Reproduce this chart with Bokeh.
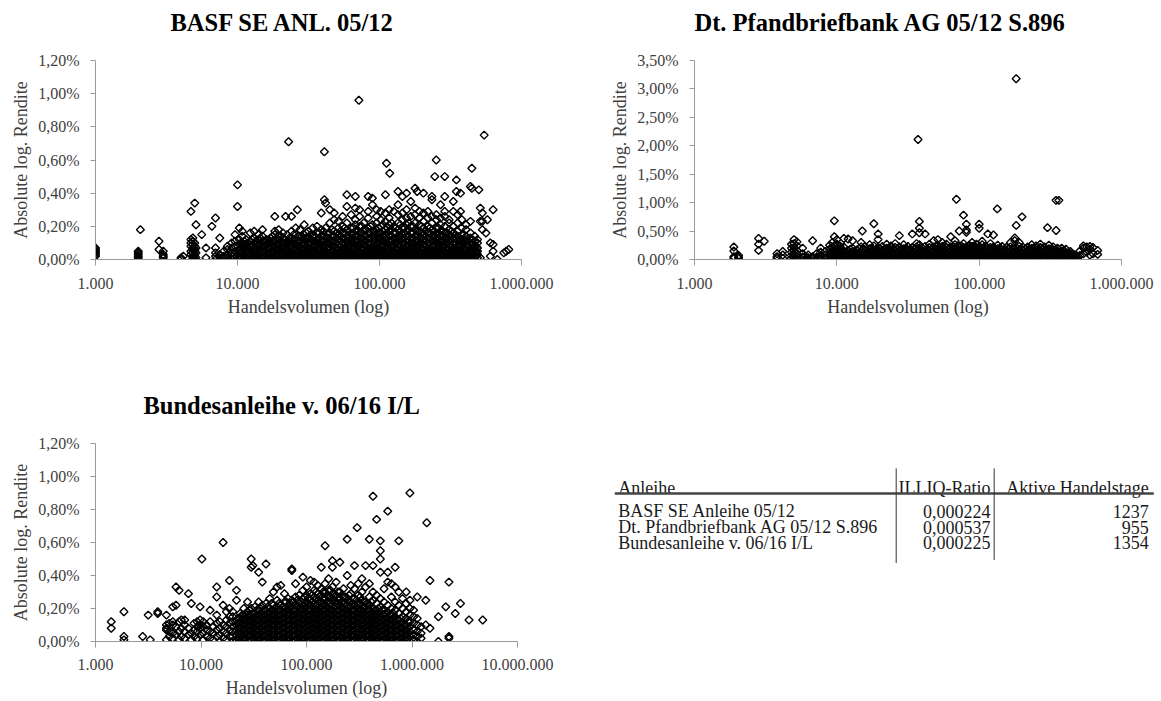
from bokeh.plotting import figure
from bokeh.models import Range1d, Title, FixedTicker, CustomJSTickFormatter, ColumnDataSource
from bokeh.layouts import column, row
from bokeh.embed import file_html
from bokeh.resources import INLINE
from bokeh.core.properties import value
import numpy as np

FONT = "Liberation Serif"

# ---------------- data (volume, [absolute log return in %]) ----------------
basf_cols = [
    (1000, [0.02, 0.03, 0.04, 0.05, 0.06, 0.07]),
    (2000, [0.00, 0.01, 0.02, 0.03, 0.04, 0.05]), (2070, [0.18]),
    (2800, [0.06, 0.11]), (3000, [0.01, 0.02, 0.03, 0.05]),
    (4000, [0.00, 0.01]), (4150, [0.02]),
    (4700, [0.03, 0.05, 0.08, 0.10, 0.12, 0.29]),
    (4850, [0.00, 0.01, 0.02, 0.04, 0.06, 0.07, 0.09, 0.11, 0.13]),
    (5000, [0.00, 0.02, 0.03, 0.05, 0.06, 0.08, 0.10, 0.34]),
    (5100, [0.01, 0.04, 0.07, 0.21]), (5600, [0.15]), (6000, [0.01, 0.07]),
    (6600, [0.20]), (7000, [0.00, 0.02, 0.04, 0.07, 0.25]),
    (7500, [0.01, 0.03, 0.13]), (8000, [0.00, 0.02, 0.05]),
    (8500, [0.01, 0.03, 0.06, 0.08]), (9100, [0.00, 0.02, 0.04, 0.07, 0.10]),
    (9600, [0.01, 0.03, 0.05, 0.08, 0.11, 0.15]), (10000, [0.45, 0.32]),
    (10300, [0.00, 0.02, 0.04, 0.06, 0.09, 0.12, 0.19]),
    (10800, [0.01, 0.03, 0.05, 0.08, 0.10, 0.14, 0.17]),
    (11500, [0.00, 0.02, 0.04, 0.07, 0.09, 0.12]),
    (12300, [0.01, 0.03, 0.06, 0.08, 0.11, 0.16]),
    (13100, [0.00, 0.02, 0.05, 0.07, 0.10, 0.13, 0.17]),
    (14000, [0.01, 0.03, 0.04, 0.06, 0.09, 0.12, 0.15]),
    (15000, [0.00, 0.02, 0.05, 0.08, 0.11, 0.14, 0.18]),
    (16000, [0.01, 0.03, 0.06, 0.09, 0.12]),
    (17100, [0.00, 0.02, 0.04, 0.07, 0.10, 0.13]),
    (18300, [0.01, 0.03, 0.05, 0.08, 0.11, 0.15, 0.17, 0.26]),
    (19500, [0.00, 0.02, 0.04, 0.06, 0.09, 0.12, 0.14, 0.18]),
    (20900, [0.01, 0.03, 0.05, 0.07, 0.10, 0.13, 0.16]),
    (21800, [0.26]), (22900, [0.71]),
    (22400, [0.00, 0.02, 0.04, 0.06, 0.09, 0.11, 0.15]),
    (24000, [0.01, 0.03, 0.05, 0.08, 0.10, 0.13, 0.17, 0.26]),
    (25700, [0.00, 0.02, 0.04, 0.07, 0.09, 0.12, 0.19]), (26400, [0.30]),
    (27500, [0.01, 0.03, 0.05, 0.08, 0.11, 0.14, 0.18]),
    (29500, [0.00, 0.02, 0.04, 0.06, 0.09, 0.12, 0.15, 0.21]),
    (31600, [0.01, 0.03, 0.05, 0.07, 0.10, 0.13, 0.17]),
    (33900, [0.00, 0.02, 0.04, 0.06, 0.08, 0.11, 0.14, 0.19]),
    (36300, [0.01, 0.03, 0.05, 0.07, 0.10, 0.12, 0.16, 0.20]),
    (38900, [0.00, 0.02, 0.04, 0.06, 0.09, 0.11, 0.14, 0.18, 0.28]),
    (40900, [0.65, 0.36]),
    (41700, [0.01, 0.03, 0.05, 0.08, 0.10, 0.13, 0.19, 0.34]),
    (44700, [0.00, 0.02, 0.04, 0.07, 0.09, 0.12, 0.16, 0.22, 0.30]),
    (47900, [0.01, 0.03, 0.05, 0.08, 0.11, 0.14, 0.17, 0.24, 0.28]),
    (51300, [0.00, 0.02, 0.04, 0.06, 0.09, 0.12, 0.15, 0.19, 0.23]),
    (55000, [0.01, 0.03, 0.05, 0.07, 0.10, 0.13, 0.16, 0.20, 0.26]),
    (58900, [0.00, 0.02, 0.04, 0.06, 0.08, 0.11, 0.14, 0.18, 0.22, 0.32, 0.39]),
    (63100, [0.01, 0.03, 0.05, 0.07, 0.10, 0.12, 0.15, 0.19, 0.27]),
    (67600, [0.00, 0.02, 0.04, 0.06, 0.09, 0.11, 0.14, 0.17, 0.21, 0.24, 0.31, 0.38]),
    (71600, [0.96]),
    (72400, [0.01, 0.03, 0.05, 0.08, 0.10, 0.13, 0.16, 0.20, 0.26, 0.30]),
    (77600, [0.00, 0.02, 0.04, 0.06, 0.09, 0.12, 0.15, 0.18, 0.22]),
    (83200, [0.01, 0.03, 0.05, 0.07, 0.10, 0.13, 0.16, 0.19, 0.25, 0.29, 0.38]),
    (89100, [0.00, 0.02, 0.04, 0.06, 0.08, 0.11, 0.14, 0.17, 0.21, 0.33, 0.37]),
    (95500, [0.01, 0.03, 0.05, 0.07, 0.09, 0.12, 0.15, 0.18, 0.22, 0.26, 0.30]),
    (102000, [0.00, 0.02, 0.04, 0.06, 0.08, 0.11, 0.13, 0.16, 0.20, 0.24, 0.29]),
    (110000, [0.01, 0.03, 0.05, 0.07, 0.10, 0.12, 0.15, 0.18, 0.23, 0.28, 0.39]),
    (112000, [0.58]), (118000, [0.52]),
    (117000, [0.00, 0.02, 0.04, 0.06, 0.09, 0.11, 0.14, 0.17, 0.21, 0.25, 0.30]),
    (126000, [0.01, 0.03, 0.05, 0.08, 0.10, 0.13, 0.16, 0.20, 0.29]),
    (135000, [0.00, 0.02, 0.04, 0.06, 0.09, 0.12, 0.14, 0.18, 0.22, 0.27, 0.33, 0.41]),
    (145000, [0.01, 0.03, 0.05, 0.07, 0.10, 0.12, 0.15, 0.19, 0.24, 0.28, 0.38]),
    (155000, [0.00, 0.02, 0.04, 0.06, 0.08, 0.11, 0.14, 0.17, 0.21, 0.25, 0.30, 0.40]),
    (166000, [0.01, 0.03, 0.05, 0.07, 0.10, 0.13, 0.16, 0.20, 0.26, 0.35]),
    (178000, [0.00, 0.02, 0.04, 0.06, 0.09, 0.11, 0.14, 0.18, 0.22, 0.27, 0.31, 0.43]),
    (184000, [0.41]),
    (191000, [0.01, 0.03, 0.05, 0.08, 0.10, 0.13, 0.17, 0.21, 0.25, 0.29]),
    (204000, [0.00, 0.02, 0.04, 0.06, 0.09, 0.12, 0.15, 0.19, 0.23, 0.28, 0.40]),
    (219000, [0.01, 0.03, 0.05, 0.07, 0.10, 0.13, 0.16, 0.20, 0.25, 0.29]),
    (234000, [0.00, 0.02, 0.04, 0.06, 0.08, 0.11, 0.14, 0.18, 0.22, 0.26, 0.36, 0.38]),
    (245000, [0.50]), (251000, [0.60]),
    (251500, [0.01, 0.03, 0.05, 0.07, 0.10, 0.12, 0.15, 0.19, 0.24, 0.27]),
    (269000, [0.00, 0.02, 0.04, 0.06, 0.09, 0.11, 0.14, 0.17, 0.21, 0.25, 0.33]),
    (288000, [0.01, 0.03, 0.05, 0.08, 0.10, 0.13, 0.16, 0.20, 0.26, 0.29, 0.38, 0.50]),
    (309000, [0.00, 0.02, 0.04, 0.06, 0.09, 0.12, 0.15, 0.18, 0.22, 0.24]),
    (331000, [0.01, 0.03, 0.05, 0.07, 0.10, 0.13, 0.16, 0.20, 0.29, 0.35]),
    (348000, [0.48, 0.41]),
    (355000, [0.00, 0.02, 0.04, 0.06, 0.08, 0.11, 0.14, 0.17, 0.22, 0.27]),
    (372000, [0.29, 0.40]),
    (380000, [0.01, 0.03, 0.05, 0.07, 0.10, 0.12, 0.15, 0.19, 0.24]),
    (407000, [0.00, 0.02, 0.04, 0.06, 0.09, 0.11, 0.14, 0.18, 0.21]),
    (437000, [0.01, 0.03, 0.05, 0.07, 0.10, 0.13, 0.16, 0.23, 0.44]),
    (447000, [0.55, 0.43]),
    (468000, [0.00, 0.02, 0.04, 0.06, 0.08, 0.11, 0.14]),
    (490000, [0.01, 0.03, 0.05, 0.07, 0.10, 0.12]),
    (501000, [0.42]), (513000, [0.01, 0.23, 0.31]), (530000, [0.18, 0.23, 0.28]),
    (546000, [0.75]), (562000, [0.16]), (575000, [0.24]), (603000, [0.02, 0.10]),
    (631000, [0.05, 0.09, 0.30]), (676000, [0.00]),
    (750000, [0.04]), (780000, [0.05]), (813000, [0.06]),
]
# extra points in the solid black core of the BASF cloud
basf_core = [
    (10550, [0.01, 0.04, 0.07, 0.10]), (11150, [0.00, 0.03, 0.06, 0.09, 0.11]),
    (11900, [0.01, 0.04, 0.07, 0.10]), (12700, [0.02, 0.05, 0.08, 0.12]),
    (13550, [0.01, 0.03, 0.06, 0.09, 0.11]), (14500, [0.00, 0.04, 0.07, 0.10, 0.13]),
    (15500, [0.02, 0.05, 0.08, 0.11]), (16550, [0.01, 0.04, 0.07, 0.10, 0.12]),
    (17700, [0.02, 0.05, 0.08, 0.11, 0.14]), (18900, [0.00, 0.03, 0.06, 0.09, 0.12]),
    (20200, [0.02, 0.05, 0.08, 0.11, 0.14]), (21650, [0.01, 0.04, 0.07, 0.10, 0.12]),
    (23200, [0.02, 0.05, 0.08, 0.11, 0.13]), (24850, [0.01, 0.04, 0.06, 0.09, 0.12, 0.15]),
    (26600, [0.02, 0.05, 0.08, 0.11, 0.14]), (28500, [0.01, 0.03, 0.06, 0.09, 0.12, 0.14]),
    (30550, [0.02, 0.05, 0.08, 0.11, 0.13, 0.16]), (32750, [0.01, 0.04, 0.07, 0.10, 0.12, 0.15]),
    (35100, [0.02, 0.05, 0.08, 0.11, 0.14]), (37600, [0.01, 0.04, 0.07, 0.10, 0.13, 0.16]),
    (40300, [0.02, 0.05, 0.08, 0.11, 0.14, 0.17]), (43200, [0.01, 0.04, 0.07, 0.10, 0.13, 0.15]),
    (46300, [0.02, 0.05, 0.08, 0.11, 0.14, 0.18]), (49600, [0.01, 0.04, 0.07, 0.10, 0.13, 0.16]),
    (53150, [0.02, 0.05, 0.08, 0.11, 0.14, 0.17]), (56950, [0.01, 0.04, 0.07, 0.09, 0.12, 0.16, 0.19]),
    (61000, [0.02, 0.05, 0.08, 0.11, 0.13, 0.17]), (65350, [0.01, 0.04, 0.07, 0.10, 0.13, 0.16, 0.19]),
    (70000, [0.02, 0.05, 0.08, 0.11, 0.14, 0.17]), (75000, [0.01, 0.04, 0.07, 0.10, 0.13, 0.16, 0.20]),
    (80400, [0.02, 0.05, 0.08, 0.11, 0.14, 0.18]), (86150, [0.01, 0.04, 0.07, 0.10, 0.13, 0.16, 0.20]),
    (92300, [0.02, 0.05, 0.08, 0.11, 0.14, 0.17]), (98750, [0.01, 0.04, 0.07, 0.10, 0.13, 0.16, 0.19]),
    (106000, [0.02, 0.05, 0.08, 0.11, 0.14, 0.17, 0.21]), (113500, [0.01, 0.04, 0.07, 0.10, 0.13, 0.16, 0.19]),
    (121500, [0.02, 0.05, 0.08, 0.11, 0.14, 0.18, 0.22]), (130500, [0.01, 0.04, 0.07, 0.10, 0.13, 0.16, 0.19]),
    (140000, [0.02, 0.05, 0.08, 0.11, 0.14, 0.17, 0.21]), (150000, [0.01, 0.04, 0.07, 0.10, 0.13, 0.16, 0.19]),
    (160500, [0.02, 0.05, 0.08, 0.11, 0.14, 0.18, 0.22]), (172000, [0.01, 0.04, 0.07, 0.10, 0.13, 0.16, 0.20]),
    (184500, [0.02, 0.05, 0.08, 0.11, 0.14, 0.17]), (197500, [0.01, 0.04, 0.07, 0.10, 0.13, 0.16, 0.20]),
    (211500, [0.02, 0.05, 0.08, 0.11, 0.14, 0.17]), (226500, [0.01, 0.04, 0.07, 0.10, 0.13, 0.16, 0.19]),
    (243000, [0.02, 0.05, 0.08, 0.11, 0.14, 0.17]), (260000, [0.01, 0.04, 0.07, 0.10, 0.13, 0.16, 0.19]),
    (278500, [0.02, 0.05, 0.08, 0.11, 0.14, 0.17]), (298500, [0.01, 0.04, 0.07, 0.10, 0.13, 0.16]),
    (320000, [0.02, 0.05, 0.08, 0.11, 0.14, 0.17]), (343000, [0.01, 0.04, 0.07, 0.10, 0.13, 0.15]),
    (367500, [0.02, 0.05, 0.08, 0.11, 0.13]), (393500, [0.01, 0.04, 0.07, 0.10, 0.12, 0.15]),
    (422000, [0.02, 0.05, 0.08, 0.11]), (452000, [0.01, 0.04, 0.07, 0.09, 0.12]),
    (479000, [0.02, 0.05, 0.08]),
]

pfand_cols = [
    (1890, [0.02, 0.05, 0.15, 0.22]), (2040, [0.02, 0.04, 0.07]),
    (2820, [0.16, 0.27, 0.37]), (3090, [0.32]),
    (3800, [0.02, 0.05, 0.10]), (4170, [0.02, 0.08, 0.14]),
    (4800, [0.02, 0.07, 0.13, 0.20, 0.27]),
    (5000, [0.00, 0.04, 0.09, 0.15, 0.21, 0.28, 0.35]),
    (5250, [0.01, 0.05, 0.10, 0.16, 0.24, 0.31]),
    (5750, [0.04, 0.10, 0.20]), (6000, [0.01, 0.06]), (6300, [0.00, 0.03, 0.08]),
    (6760, [0.02, 0.05, 0.33]), (7200, [0.00, 0.04, 0.10]),
    (7700, [0.01, 0.06, 0.13, 0.20]), (8300, [0.00, 0.03, 0.08, 0.14]),
    (8900, [0.02, 0.06, 0.11, 0.18, 0.25]),
    (9300, [0.00, 0.04, 0.09, 0.15, 0.22, 0.30]),
    (9600, [0.01, 0.05, 0.10, 0.16, 0.24, 0.40, 0.68]),
    (10000, [0.00, 0.03, 0.08, 0.13, 0.19, 0.27, 0.35]),
    (10500, [0.02, 0.06, 0.11, 0.17, 0.24]),
    (11200, [0.00, 0.04, 0.09, 0.15, 0.22, 0.37]),
    (12000, [0.01, 0.05, 0.10, 0.16, 0.36]),
    (12900, [0.00, 0.03, 0.08, 0.14, 0.20, 0.33]),
    (13800, [0.02, 0.06, 0.11, 0.17]),
    (14800, [0.00, 0.04, 0.09, 0.15, 0.22, 0.30]), (15100, [0.50]),
    (15800, [0.01, 0.05, 0.10, 0.16, 0.23]),
    (17000, [0.00, 0.03, 0.08, 0.13, 0.19, 0.26]),
    (18200, [0.02, 0.06, 0.11, 0.17, 0.24, 0.63]),
    (19500, [0.00, 0.04, 0.09, 0.15, 0.21, 0.35, 0.45]),
    (20900, [0.01, 0.05, 0.10, 0.16, 0.23]),
    (22400, [0.00, 0.03, 0.08, 0.14, 0.20, 0.27]),
    (24000, [0.02, 0.06, 0.11, 0.17, 0.24]),
    (25700, [0.00, 0.04, 0.09, 0.15, 0.21, 0.28]),
    (27500, [0.01, 0.05, 0.10, 0.16, 0.22, 0.42]),
    (29500, [0.00, 0.03, 0.08, 0.13, 0.19, 0.26]),
    (31600, [0.02, 0.06, 0.11, 0.17, 0.23]),
    (33900, [0.00, 0.04, 0.09, 0.15, 0.21, 0.45]),
    (36300, [0.01, 0.05, 0.10, 0.16, 0.22, 0.28]), (37200, [2.11]),
    (38000, [0.00, 0.03, 0.08, 0.14, 0.20, 0.26, 0.47, 0.55, 0.67]),
    (41700, [0.02, 0.06, 0.11, 0.17, 0.23, 0.45]),
    (44700, [0.00, 0.04, 0.09, 0.15, 0.21, 0.27]),
    (47900, [0.01, 0.05, 0.10, 0.16, 0.22, 0.33]),
    (51300, [0.00, 0.03, 0.08, 0.13, 0.19, 0.25, 0.35]),
    (55000, [0.02, 0.06, 0.11, 0.17, 0.23, 0.30]),
    (58900, [0.00, 0.04, 0.09, 0.15, 0.21, 0.27]),
    (63100, [0.01, 0.05, 0.10, 0.16, 0.22, 0.40]),
    (67600, [0.00, 0.03, 0.08, 0.14, 0.20, 0.26, 0.33]), (69200, [1.06]),
    (72400, [0.02, 0.06, 0.11, 0.17, 0.24, 0.50]),
    (77600, [0.00, 0.04, 0.09, 0.15, 0.21, 0.28, 0.78]),
    (81300, [0.01, 0.05, 0.10, 0.16, 0.22, 0.48, 0.52, 0.62]),
    (85000, [0.00, 0.03, 0.08, 0.13, 0.19, 0.25]),
    (89100, [0.02, 0.06, 0.11, 0.17, 0.23, 0.30]),
    (95500, [0.00, 0.04, 0.09, 0.15, 0.21, 0.27]),
    (100000, [0.01, 0.05, 0.10, 0.16, 0.22, 0.55, 0.62]),
    (105000, [0.00, 0.03, 0.08, 0.14, 0.20, 0.26, 0.32]),
    (112000, [0.02, 0.06, 0.11, 0.17, 0.23]), (115000, [0.45]),
    (120000, [0.00, 0.04, 0.09, 0.15, 0.21, 0.28]),
    (126000, [0.01, 0.05, 0.10, 0.16, 0.22, 0.43]), (134000, [0.89]),
    (135000, [0.00, 0.03, 0.08, 0.13, 0.19, 0.25]),
    (145000, [0.02, 0.06, 0.11, 0.17, 0.23]),
    (155000, [0.00, 0.04, 0.09, 0.15, 0.21]),
    (166000, [0.01, 0.05, 0.10, 0.16, 0.22, 0.30]),
    (178000, [0.00, 0.03, 0.08, 0.13, 0.19, 0.33, 0.38]),
    (182000, [3.18, 0.60]),
    (191000, [0.02, 0.06, 0.11, 0.17, 0.23, 0.30]), (200000, [0.75]),
    (204000, [0.00, 0.04, 0.09, 0.15, 0.21]),
    (219000, [0.01, 0.05, 0.10, 0.16, 0.22]),
    (234000, [0.00, 0.03, 0.08, 0.14, 0.20, 0.26]),
    (251000, [0.02, 0.06, 0.11, 0.17, 0.24]),
    (269000, [0.00, 0.04, 0.09, 0.15, 0.21, 0.27]),
    (288000, [0.01, 0.05, 0.10, 0.16, 0.22]), (302000, [0.56]),
    (309000, [0.00, 0.03, 0.08, 0.13, 0.19, 0.25]),
    (331000, [0.02, 0.06, 0.11, 0.17, 0.22]),
    (347000, [0.51, 1.04]), (363000, [1.04]),
    (355000, [0.00, 0.04, 0.09, 0.15, 0.20]),
    (380000, [0.01, 0.05, 0.10, 0.15, 0.20]),
    (407000, [0.00, 0.03, 0.08, 0.12, 0.18]),
    (437000, [0.02, 0.06, 0.10, 0.14]), (468000, [0.00, 0.04, 0.08]),
    (490000, [0.01, 0.03]),
    (510000, [0.07, 0.15]), (540000, [0.10, 0.20, 0.24]), (570000, [0.13, 0.22]),
    (600000, [0.08, 0.18, 0.23]), (630000, [0.10, 0.21]), (680000, [0.09, 0.16]),
]
pfand_core = [
    (9450, [0.02, 0.07, 0.12]), (10250, [0.03, 0.08, 0.14, 0.20]),
    (10850, [0.02, 0.07, 0.12, 0.18]), (11600, [0.03, 0.08, 0.13]),
    (12450, [0.02, 0.07, 0.12, 0.18]), (13350, [0.03, 0.08, 0.14]),
    (14300, [0.02, 0.07, 0.12, 0.19]), (15450, [0.03, 0.08, 0.13, 0.18]),
    (16400, [0.02, 0.07, 0.12]), (17600, [0.03, 0.08, 0.14, 0.20]),
    (18850, [0.02, 0.07, 0.12, 0.18]), (20200, [0.03, 0.08, 0.13, 0.19]),
    (21650, [0.02, 0.07, 0.12, 0.17]), (23200, [0.03, 0.08, 0.14, 0.20]),
    (24850, [0.02, 0.07, 0.12, 0.18]), (26600, [0.03, 0.08, 0.13, 0.19]),
    (28500, [0.02, 0.07, 0.12, 0.18]), (30550, [0.03, 0.08, 0.14, 0.20]),
    (32750, [0.02, 0.07, 0.12, 0.18]), (35100, [0.03, 0.08, 0.13, 0.19]),
    (37600, [0.02, 0.07, 0.12, 0.18]), (39850, [0.03, 0.08, 0.14, 0.20]),
    (43200, [0.02, 0.07, 0.12, 0.18]), (46300, [0.03, 0.08, 0.13, 0.19]),
    (49600, [0.02, 0.07, 0.12, 0.18, 0.23]), (53150, [0.03, 0.08, 0.14, 0.20]),
    (56950, [0.02, 0.07, 0.12, 0.18, 0.24]), (61000, [0.03, 0.08, 0.13, 0.19]),
    (65350, [0.02, 0.07, 0.12, 0.18, 0.23]), (70000, [0.03, 0.08, 0.14, 0.20]),
    (75000, [0.02, 0.07, 0.12, 0.18, 0.24]), (79500, [0.03, 0.08, 0.13, 0.19]),
    (83150, [0.02, 0.07, 0.12, 0.18]), (87050, [0.03, 0.08, 0.14, 0.20]),
    (92300, [0.02, 0.07, 0.12, 0.18, 0.24]), (97750, [0.03, 0.08, 0.13, 0.19]),
    (102500, [0.02, 0.07, 0.12, 0.18]), (108500, [0.03, 0.08, 0.14, 0.20]),
    (116000, [0.02, 0.07, 0.12, 0.18]), (123000, [0.03, 0.08, 0.13, 0.19]),
    (130500, [0.02, 0.07, 0.12, 0.18]), (140000, [0.03, 0.08, 0.14, 0.20]),
    (150000, [0.02, 0.07, 0.12, 0.17]), (160500, [0.03, 0.08, 0.13, 0.19]),
    (172000, [0.02, 0.07, 0.12, 0.18]), (184500, [0.03, 0.08, 0.14]),
    (197500, [0.02, 0.07, 0.12, 0.18]), (211500, [0.03, 0.08, 0.13, 0.19]),
    (226500, [0.02, 0.07, 0.12, 0.17]), (242500, [0.03, 0.08, 0.14, 0.20]),
    (260000, [0.02, 0.07, 0.12, 0.18]), (278500, [0.03, 0.08, 0.13, 0.19]),
    (298500, [0.02, 0.07, 0.12, 0.17]), (320000, [0.03, 0.08, 0.14]),
    (343000, [0.02, 0.07, 0.12, 0.17]), (367500, [0.03, 0.08, 0.13]),
    (393500, [0.02, 0.07, 0.12, 0.16]), (422000, [0.03, 0.08, 0.12]),
    (452000, [0.02, 0.06, 0.10]),
]

bund_cols = [
    (1410, [0.08, 0.12]), (1860, [0.01, 0.03, 0.18]), (2800, [0.03]),
    (3160, [0.16]), (3300, [0.01]), (3890, [0.17, 0.18]),
    (4700, [0.01, 0.07, 0.08, 0.10, 0.16]), (5000, [0.03, 0.06, 0.11]),
    (5400, [0.02, 0.05, 0.10, 0.12, 0.21]), (5800, [0.04, 0.09, 0.22, 0.33]),
    (6200, [0.01, 0.06, 0.12, 0.31]), (6500, [0.03, 0.08, 0.13]),
    (7000, [0.02, 0.06, 0.10, 0.13]), (7600, [0.04, 0.08, 0.29]),
    (8100, [0.01, 0.05, 0.23]), (8600, [0.03, 0.07, 0.11]),
    (9200, [0.02, 0.06, 0.09, 0.12]), (9800, [0.04, 0.08, 0.10, 0.13, 0.21]),
    (10200, [0.50]), (10500, [0.01, 0.05, 0.09, 0.12]),
    (11300, [0.03, 0.07, 0.10]), (12200, [0.02, 0.06, 0.12, 0.19]),
    (13100, [0.01, 0.05, 0.09]), (14100, [0.03, 0.07, 0.11, 0.16, 0.27, 0.33]),
    (15100, [0.00, 0.04, 0.08, 0.12]), (16200, [0.02, 0.06, 0.10, 0.22, 0.60]),
    (17400, [0.01, 0.05, 0.09, 0.13, 0.18]),
    (18600, [0.03, 0.07, 0.11, 0.15, 0.20, 0.37]),
    (20000, [0.00, 0.03, 0.06, 0.09, 0.12, 0.15, 0.18]),
    (21700, [0.01, 0.04, 0.07, 0.10, 0.13, 0.25, 0.31]),
    (23500, [0.00, 0.02, 0.05, 0.08, 0.11, 0.14, 0.17]),
    (25500, [0.01, 0.04, 0.07, 0.10, 0.13, 0.16, 0.20]),
    (27600, [0.00, 0.03, 0.06, 0.09, 0.12, 0.15, 0.18, 0.24]),
    (29900, [0.01, 0.04, 0.07, 0.10, 0.13, 0.16, 0.20, 0.45, 0.50]),
    (31000, [0.46]),
    (32400, [0.00, 0.02, 0.05, 0.08, 0.11, 0.14, 0.17, 0.21]),
    (35200, [0.01, 0.04, 0.07, 0.10, 0.13, 0.16, 0.19, 0.24, 0.42]),
    (38100, [0.00, 0.03, 0.06, 0.09, 0.12, 0.15, 0.18, 0.22, 0.36]),
    (41300, [0.01, 0.04, 0.07, 0.10, 0.13, 0.16, 0.19, 0.23, 0.47]),
    (44800, [0.00, 0.02, 0.05, 0.08, 0.11, 0.14, 0.17, 0.20, 0.26]),
    (48500, [0.01, 0.04, 0.07, 0.10, 0.13, 0.16, 0.19, 0.22, 0.30]),
    (52600, [0.00, 0.03, 0.06, 0.09, 0.12, 0.15, 0.18, 0.21, 0.25, 0.33]),
    (57000, [0.01, 0.04, 0.07, 0.10, 0.13, 0.16, 0.19, 0.22, 0.34]),
    (61800, [0.00, 0.02, 0.05, 0.08, 0.11, 0.14, 0.17, 0.20, 0.24, 0.29]),
    (67000, [0.01, 0.04, 0.07, 0.10, 0.13, 0.16, 0.19, 0.22, 0.26]),
    (72600, [0.00, 0.03, 0.06, 0.09, 0.12, 0.15, 0.18, 0.21, 0.25, 0.43, 0.44]),
    (78700, [0.01, 0.04, 0.07, 0.10, 0.13, 0.16, 0.19, 0.22, 0.27, 0.35]),
    (85300, [0.00, 0.02, 0.05, 0.08, 0.11, 0.14, 0.17, 0.20, 0.23, 0.28]),
    (92500, [0.01, 0.04, 0.07, 0.10, 0.13, 0.16, 0.19, 0.22, 0.26, 0.31, 0.39]),
    (100000, [0.00, 0.03, 0.06, 0.09, 0.12, 0.15, 0.18, 0.21, 0.24, 0.28, 0.33]),
    (109000, [0.01, 0.04, 0.07, 0.10, 0.13, 0.16, 0.19, 0.22, 0.25, 0.29, 0.37]),
    (118000, [0.00, 0.02, 0.05, 0.08, 0.11, 0.14, 0.17, 0.20, 0.23, 0.27, 0.31, 0.36]),
    (128000, [0.01, 0.04, 0.07, 0.10, 0.13, 0.16, 0.19, 0.22, 0.25, 0.29, 0.34]),
    (138000, [0.00, 0.03, 0.06, 0.09, 0.12, 0.15, 0.18, 0.21, 0.24, 0.28, 0.32, 0.45]),
    (150000, [0.01, 0.04, 0.07, 0.10, 0.13, 0.16, 0.19, 0.22, 0.26, 0.30, 0.35, 0.58]),
    (162000, [0.00, 0.02, 0.05, 0.08, 0.11, 0.14, 0.17, 0.20, 0.23, 0.27, 0.31, 0.38]),
    (176000, [0.01, 0.04, 0.07, 0.10, 0.13, 0.16, 0.19, 0.22, 0.25, 0.29, 0.33, 0.45, 0.49]),
    (191000, [0.00, 0.03, 0.06, 0.09, 0.12, 0.15, 0.18, 0.21, 0.24, 0.28, 0.36]),
    (207000, [0.01, 0.04, 0.07, 0.10, 0.13, 0.16, 0.19, 0.22, 0.26, 0.30, 0.48]),
    (224000, [0.00, 0.02, 0.05, 0.08, 0.11, 0.14, 0.17, 0.20, 0.23, 0.27, 0.32]),
    (243000, [0.01, 0.04, 0.07, 0.10, 0.13, 0.16, 0.19, 0.22, 0.25, 0.40, 0.62]),
    (263000, [0.00, 0.03, 0.06, 0.09, 0.12, 0.15, 0.18, 0.21, 0.24, 0.29, 0.34]),
    (285000, [0.01, 0.04, 0.07, 0.10, 0.13, 0.16, 0.19, 0.22, 0.26, 0.32, 0.46]),
    (302000, [0.69]),
    (309000, [0.00, 0.02, 0.05, 0.08, 0.11, 0.14, 0.17, 0.20, 0.23, 0.28, 0.35]),
    (335000, [0.01, 0.04, 0.07, 0.10, 0.13, 0.16, 0.19, 0.22, 0.25, 0.30, 0.38]),
    (363000, [0.00, 0.03, 0.06, 0.09, 0.12, 0.15, 0.18, 0.21, 0.24, 0.33, 0.46]),
    (394000, [0.01, 0.04, 0.07, 0.10, 0.13, 0.16, 0.19, 0.22, 0.27, 0.35, 0.62]),
    (427000, [0.00, 0.02, 0.05, 0.08, 0.11, 0.14, 0.17, 0.20, 0.25, 0.30, 0.46, 0.88]),
    (462000, [0.01, 0.04, 0.07, 0.10, 0.13, 0.16, 0.19, 0.23, 0.28, 0.74]),
    (501000, [0.00, 0.03, 0.06, 0.09, 0.12, 0.15, 0.18, 0.21, 0.26, 0.42, 0.50, 0.55, 0.61]),
    (543000, [0.01, 0.04, 0.07, 0.10, 0.13, 0.16, 0.19, 0.24, 0.32]),
    (589000, [0.00, 0.02, 0.05, 0.08, 0.11, 0.14, 0.18, 0.22, 0.36, 0.42, 0.79]),
    (638000, [0.01, 0.04, 0.07, 0.10, 0.13, 0.16, 0.20, 0.27, 0.35]),
    (692000, [0.00, 0.03, 0.06, 0.09, 0.12, 0.15, 0.19, 0.24, 0.33, 0.45]),
    (750000, [0.01, 0.04, 0.07, 0.10, 0.13, 0.17, 0.22, 0.30, 0.61]),
    (813000, [0.00, 0.02, 0.05, 0.08, 0.11, 0.15, 0.20, 0.26]),
    (881000, [0.01, 0.04, 0.07, 0.10, 0.14, 0.18, 0.23, 0.30]),
    (955000, [0.00, 0.03, 0.06, 0.09, 0.12, 0.16, 0.20, 0.25, 0.90]),
    (1035000, [0.01, 0.04, 0.07, 0.11, 0.15, 0.19]),
    (1122000, [0.00, 0.03, 0.06, 0.10, 0.14, 0.27]),
    (1220000, [0.02, 0.05, 0.09]),
    (1350000, [0.10, 0.25]), (1380000, [0.72]), (1480000, [0.08, 0.37]),
    (1780000, [0.00, 0.15]), (2090000, [0.21]), (2240000, [0.02, 0.03, 0.36]),
    (2570000, [0.17]), (2880000, [0.23]), (3470000, [0.13]), (4680000, [0.13]),
]
bund_core = [
    (22600, [0.02, 0.05, 0.08, 0.11, 0.14]), (24500, [0.01, 0.04, 0.07, 0.10, 0.13, 0.16]),
    (26500, [0.02, 0.05, 0.08, 0.11, 0.14, 0.17]), (28700, [0.01, 0.04, 0.07, 0.10, 0.13, 0.16, 0.19]),
    (31100, [0.02, 0.05, 0.08, 0.11, 0.14, 0.17]), (33800, [0.01, 0.04, 0.07, 0.10, 0.13, 0.16, 0.19]),
    (36600, [0.02, 0.05, 0.08, 0.11, 0.14, 0.17, 0.20]), (39700, [0.01, 0.04, 0.07, 0.10, 0.13, 0.16, 0.19]),
    (43000, [0.02, 0.05, 0.08, 0.11, 0.14, 0.17, 0.21]), (46600, [0.01, 0.04, 0.07, 0.10, 0.13, 0.16, 0.19, 0.23]),
    (50500, [0.02, 0.05, 0.08, 0.11, 0.14, 0.17, 0.20]), (54800, [0.01, 0.04, 0.07, 0.10, 0.13, 0.16, 0.19, 0.23]),
    (59400, [0.02, 0.05, 0.08, 0.11, 0.14, 0.17, 0.21]), (64400, [0.01, 0.04, 0.07, 0.10, 0.13, 0.16, 0.19, 0.24]),
    (69800, [0.02, 0.05, 0.08, 0.11, 0.14, 0.17, 0.20, 0.23]), (75600, [0.01, 0.04, 0.07, 0.10, 0.13, 0.16, 0.19, 0.24]),
    (82000, [0.02, 0.05, 0.08, 0.11, 0.14, 0.17, 0.21, 0.25]), (88800, [0.01, 0.04, 0.07, 0.10, 0.13, 0.16, 0.19, 0.24]),
    (96200, [0.02, 0.05, 0.08, 0.11, 0.14, 0.17, 0.20, 0.23, 0.27]),
    (104000, [0.01, 0.04, 0.07, 0.10, 0.13, 0.16, 0.19, 0.23, 0.26]),
    (113000, [0.02, 0.05, 0.08, 0.11, 0.14, 0.17, 0.21, 0.24, 0.28]),
    (123000, [0.01, 0.04, 0.07, 0.10, 0.13, 0.16, 0.19, 0.22, 0.26, 0.30]),
    (133000, [0.02, 0.05, 0.08, 0.11, 0.14, 0.17, 0.20, 0.24, 0.27]),
    (144000, [0.01, 0.04, 0.07, 0.10, 0.13, 0.16, 0.19, 0.23, 0.26, 0.30]),
    (156000, [0.02, 0.05, 0.08, 0.11, 0.14, 0.17, 0.21, 0.24, 0.28]),
    (169000, [0.01, 0.04, 0.07, 0.10, 0.13, 0.16, 0.19, 0.23, 0.27, 0.31]),
    (183000, [0.02, 0.05, 0.08, 0.11, 0.14, 0.17, 0.20, 0.24, 0.27]),
    (199000, [0.01, 0.04, 0.07, 0.10, 0.13, 0.16, 0.19, 0.23, 0.26, 0.30]),
    (215000, [0.02, 0.05, 0.08, 0.11, 0.14, 0.17, 0.21, 0.24, 0.28]),
    (233000, [0.01, 0.04, 0.07, 0.10, 0.13, 0.16, 0.19, 0.23, 0.27]),
    (253000, [0.02, 0.05, 0.08, 0.11, 0.14, 0.17, 0.20, 0.24, 0.28]),
    (274000, [0.01, 0.04, 0.07, 0.10, 0.13, 0.16, 0.19, 0.23, 0.26]),
    (297000, [0.02, 0.05, 0.08, 0.11, 0.14, 0.17, 0.21, 0.25]),
    (322000, [0.01, 0.04, 0.07, 0.10, 0.13, 0.16, 0.19, 0.23, 0.27]),
    (349000, [0.02, 0.05, 0.08, 0.11, 0.14, 0.17, 0.20, 0.24]),
    (378000, [0.01, 0.04, 0.07, 0.10, 0.13, 0.16, 0.19, 0.23]),
    (410000, [0.02, 0.05, 0.08, 0.11, 0.14, 0.17, 0.21, 0.24]),
    (444000, [0.01, 0.04, 0.07, 0.10, 0.13, 0.16, 0.19]),
    (481000, [0.02, 0.05, 0.08, 0.11, 0.14, 0.17, 0.20]),
    (522000, [0.01, 0.04, 0.07, 0.10, 0.13, 0.16, 0.19]),
    (566000, [0.02, 0.05, 0.08, 0.11, 0.14, 0.17]),
    (613000, [0.01, 0.04, 0.07, 0.10, 0.13, 0.16]),
    (665000, [0.02, 0.05, 0.08, 0.11, 0.14, 0.17]),
    (720000, [0.01, 0.04, 0.07, 0.10, 0.13]),
    (781000, [0.02, 0.05, 0.08, 0.11, 0.14]),
    (846000, [0.01, 0.04, 0.07, 0.10]),
    (917000, [0.02, 0.05, 0.08, 0.12]),
]

titles = ["BASF SE ANL. 05/12", "Dt. Pfandbriefbank AG 05/12 S.896", "Bundesanleihe v. 06/16 I/L"]
x_title = "Handelsvolumen (log)"
y_title = "Absolute log. Rendite"

table_header = ["Anleihe", "ILLIQ-Ratio", "Aktive Handelstage"]
table_names = ["BASF SE Anleihe 05/12", "Dt. Pfandbriefbank AG 05/12 S.896", "Bundesanleihe v. 06/16 I/L"]
table_illiq = ["0,000224", "0,000537", "0,000225"]
table_days = ["1237", "955", "1354"]


def expand(*col_lists):
    xs, ys = [], []
    for cols in col_lists:
        for vol, rets in cols:
            for r in rets:
                xs.append(vol)
                ys.append(r)
    return xs, ys


X_FMT = CustomJSTickFormatter(code=r"""
var s = Math.round(tick).toString();
return s.replace(/\B(?=(\d{3})+(?!\d))/g, '.');
""")
Y_FMT = CustomJSTickFormatter(code=r"""
return tick.toFixed(2).replace('.', ',') + '%';
""")

AXIS_COL = "#9a9a9a"
LABEL_COL = "#404040"


def make_scatter(cols, title, w, h, bl, br, bt, bb, xmax, ymax, ystep, toff,
                 xstand=12, xlstand=5):
    p = figure(width=w, height=h, x_axis_type="log",
               x_range=Range1d(1e3, xmax), y_range=Range1d(0, ymax),
               output_backend="svg", toolbar_location=None,
               min_border_left=bl, min_border_right=br,
               min_border_top=bt, min_border_bottom=bb)
    p.title = Title(text=title, align="left", offset=toff, standoff=4,
                    text_font=FONT, text_font_size="24.5px", text_font_style="bold",
                    text_color="black")
    # empty spacer between the frame and the title
    p.add_layout(Title(text=" ", text_font=FONT, text_font_size="19px", standoff=0), "above")
    p.outline_line_color = None
    p.grid.visible = False
    xs, ys = expand(*cols)
    src = ColumnDataSource(dict(vol=xs, ret=ys))
    p.scatter(x="vol", y="ret", source=src, marker="square", angle=np.pi / 4,
              size=5.6, fill_color=None, line_color="black", line_width=1.4)

    decades = []
    v = 1000
    while v <= xmax * 1.0001:
        decades.append(v)
        v *= 10
    p.xaxis.ticker = FixedTicker(ticks=decades, minor_ticks=[])
    p.xaxis.formatter = X_FMT
    yt = [round(i * ystep, 4) for i in range(int(round(ymax / ystep)) + 1)]
    p.yaxis.ticker = FixedTicker(ticks=yt, minor_ticks=[])
    p.yaxis.formatter = Y_FMT

    for ax in (p.xaxis[0], p.yaxis[0]):
        ax.axis_line_color = AXIS_COL
        ax.major_tick_line_color = AXIS_COL
        ax.minor_tick_line_color = None
        ax.major_tick_in = 0
        ax.major_label_text_font = FONT
        ax.major_label_text_font_size = "16px"
        ax.major_label_text_color = LABEL_COL
        ax.axis_label_text_font = FONT
        ax.axis_label_text_font_size = "18px"
        ax.axis_label_text_font_style = "normal"
        ax.axis_label_text_color = LABEL_COL
    p.xaxis.major_tick_out = 6
    p.xaxis.major_label_standoff = xstand
    p.xaxis.axis_label = x_title
    p.xaxis.axis_label_standoff = xlstand
    p.yaxis.major_tick_out = 5
    p.yaxis.major_label_standoff = 11
    p.yaxis.axis_label = y_title
    p.yaxis.axis_label_standoff = 4
    return p


p1 = make_scatter([basf_cols, basf_core], titles[0], 587, 367, 95, 66, 59, 108, 1e6, 1.2, 0.2, 75)
p2 = make_scatter([pfand_cols, pfand_core], titles[1], 569, 367, 107, 35, 60, 108, 1e6, 3.5, 0.5, 0)
p3 = make_scatter([bund_cols, bund_core], titles[2], 587, 333, 95, 70, 76, 58, 1e7, 1.2, 0.2, 48,
                  xstand=11, xlstand=5)

# ---------------- table (drawn in page pixel coordinates) ----------------
TX0, TW = 587, 569
p4 = figure(width=TW, height=333, x_range=Range1d(TX0, TX0 + TW), y_range=Range1d(642, 443),
            output_backend="svg", toolbar_location=None,
            x_axis_location=None, y_axis_location=None,
            min_border_left=0, min_border_right=0, min_border_top=76, min_border_bottom=58)
p4.outline_line_color = None
p4.grid.visible = False

TCOL = "#1a1a1a"
TSIZE = "18px"
hdr_y = 487.5
row_y = [511.0, 527.3, 542.6]
tf = value(FONT)
p4.text(x=[617.7], y=[hdr_y], text=[table_header[0]], text_font=tf, text_font_size=TSIZE,
        text_color=TCOL, text_align="left", text_baseline="alphabetic")
p4.text(x=[990.0, 1148.3], y=[hdr_y, hdr_y], text=table_header[1:], text_font=tf,
        text_font_size=TSIZE, text_color=TCOL, text_align="right", text_baseline="alphabetic")
p4.text(x=[617.7] * 3, y=row_y, text=table_names, text_font=tf, text_font_size=TSIZE,
        text_color=TCOL, text_align="left", text_baseline="alphabetic")
p4.text(x=[990.0] * 3, y=row_y, text=table_illiq, text_font=tf, text_font_size=TSIZE,
        text_color=TCOL, text_align="right", text_baseline="alphabetic")
p4.text(x=[1148.3] * 3, y=row_y, text=table_days, text_font=tf, text_font_size=TSIZE,
        text_color=TCOL, text_align="right", text_baseline="alphabetic")
p4.segment(x0=[614.3], y0=[493.3], x1=[1153.3], y1=[493.3], line_color="#444444", line_width=2.6)
p4.segment(x0=[895.7, 993.7], y0=[468, 468], x1=[895.7, 993.7], y1=[563, 560],
           line_color="#333333", line_width=1)

layout = column(row(p1, p2), row(p3, p4))
open("out.html", "w").write(file_html(layout, INLINE))
